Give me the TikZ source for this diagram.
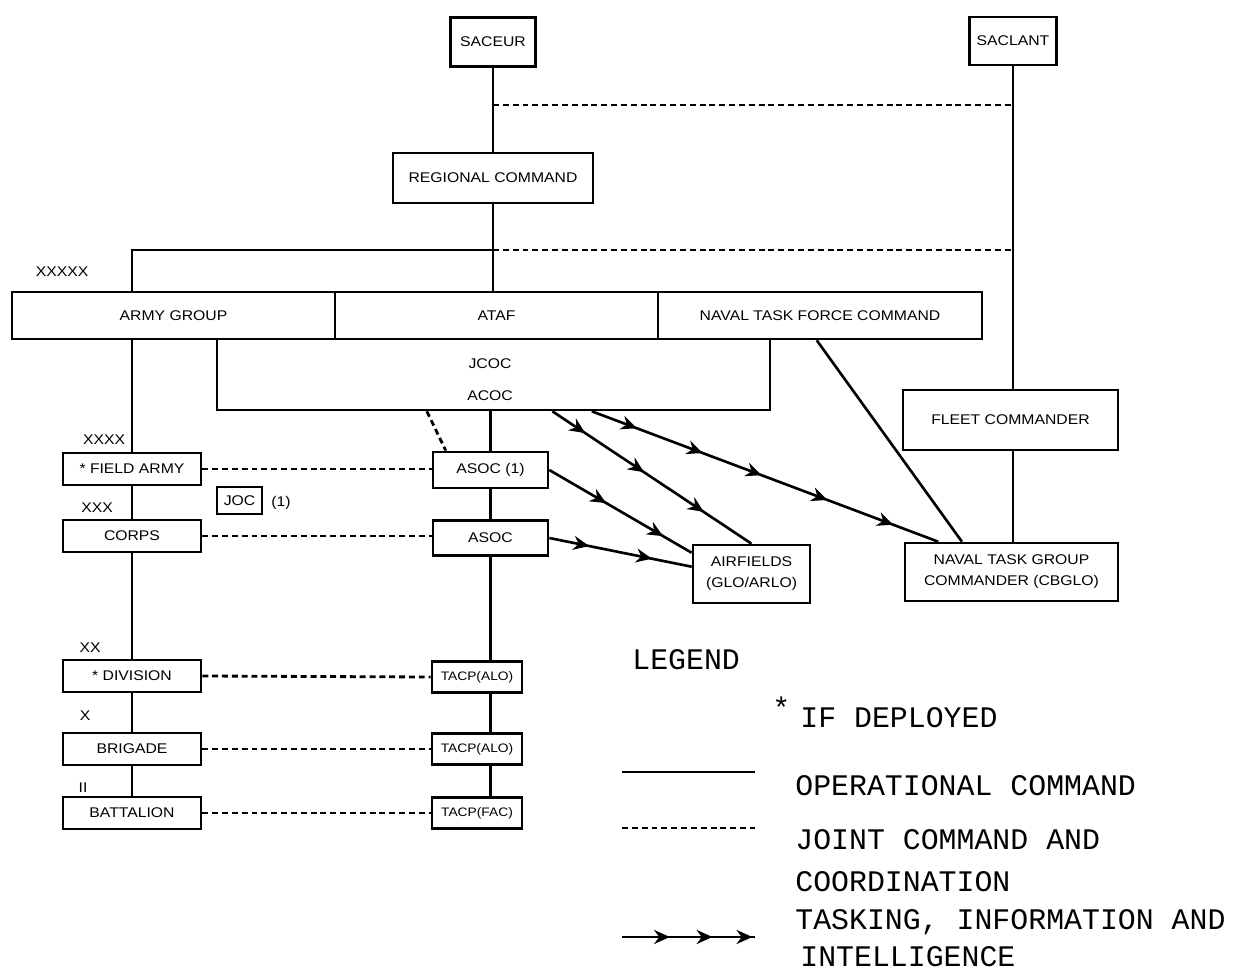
\documentclass[tikz,border=0pt]{standalone}
\usepackage{fontspec}
\setmainfont[FakeStretch=1.12]{Liberation Sans}
\newfontfamily\legendfont{Liberation Mono}
\usetikzlibrary{arrows.meta,decorations.markings,calc}

\tikzset{
  unit/.style={draw, line width=1.5pt, inner sep=0pt, font=\fontsize{8}{12}\selectfont},
  narrow/.style={font=\fontsize{7}{9}\selectfont},
  echelon/.style={font=\fontsize{8}{10}\selectfont},
  opcmd/.style={line width=1.5pt},
  joint/.style={line width=1.6pt, dash pattern=on 3.4pt off 2.2pt},
  arrowat/.style={decoration={markings, mark=at position #1 with {\arrow{Stealth[length=9pt,width=8pt]}}}},
  tasking/.style={line width=1.5pt, postaction=decorate},
  legendtext/.style={font=\legendfont\fontsize{17}{19}\selectfont, anchor=west, inner sep=0pt}
}

\begin{document}
\begin{tikzpicture}[x=0.02cm, y=-0.02cm]
\useasboundingbox (0,0) rectangle (1248,979);

% top commands
\node[unit, minimum width=1.7cm, minimum height=0.98cm] (saceur) at (493,42) {SACEUR};
\node[unit, minimum width=1.74cm, minimum height=0.96cm] (saclant) at (1013,41) {SACLANT};
\node[unit, minimum width=4cm, minimum height=1cm] (regcmd) at (493,178) {REGIONAL COMMAND};

% component row
\node[unit, minimum width=6.46cm, minimum height=0.94cm] (armygp) at (173.5,315.5) {ARMY GROUP};
\node[unit, minimum width=6.46cm, minimum height=0.94cm] (ataf) at (496.5,315.5) {ATAF};
\node[unit, minimum width=6.48cm, minimum height=0.94cm] (ntfc) at (820,315.5) {NAVAL TASK FORCE COMMAND};
\node[unit, minimum width=11.06cm, minimum height=1.42cm] (jcoc) at (493.5,374.5) {};
\node[echelon] (jcoctxt) at (490,364) {JCOC};
\node[echelon] (acoctxt) at (490,396) {ACOC};
\node[echelon] (lvl5) at (62,272) {XXXXX};

% naval side
\node[unit, minimum width=4.3cm, minimum height=1.2cm] (fleet) at (1010.5,420) {FLEET COMMANDER};
\node[unit, minimum width=4.26cm, minimum height=1.16cm, align=center] (ntgc) at (1011.5,572) {NAVAL TASK GROUP\\COMMANDER (CBGLO)};
\node[unit, minimum width=2.34cm, minimum height=1.16cm, align=center] (airfields) at (751.5,574) {AIRFIELDS\\(GLO/ARLO)};

% army column
\node[unit, minimum width=2.76cm, minimum height=0.64cm] (fieldarmy) at (132,469) {* FIELD ARMY};
\node[unit, minimum width=2.76cm, minimum height=0.64cm] (corps) at (132,536) {CORPS};
\node[unit, minimum width=2.76cm, minimum height=0.64cm] (division) at (132,676) {* DIVISION};
\node[unit, minimum width=2.76cm, minimum height=0.64cm] (brigade) at (132,749) {BRIGADE};
\node[unit, minimum width=2.76cm, minimum height=0.64cm] (battalion) at (132,813) {BATTALION};
\node[unit, minimum width=0.9cm, minimum height=0.54cm] (joc) at (239.5,500.5) {JOC};
\node[echelon] (jocnote) at (281,503) {(1)};
\node[echelon] (lvl4) at (104,440) {XXXX};
\node[echelon] (lvl3) at (97,508) {XXX};
\node[echelon] (lvl2) at (90,648) {XX};
\node[echelon] (lvl1) at (85,716) {X};
\node[echelon] (lvl0) at (83,788) {II};

% air column
\node[unit, minimum width=2.3cm, minimum height=0.72cm] (asocA) at (490.5,470) {ASOC (1)};
\node[unit, minimum width=2.3cm, minimum height=0.7cm] (asoc) at (490.5,538) {ASOC};
\node[unit, narrow, minimum width=1.8cm, minimum height=0.62cm] (tacpA) at (477,677) {TACP(ALO)};
\node[unit, narrow, minimum width=1.8cm, minimum height=0.62cm] (tacpB) at (477,749) {TACP(ALO)};
\node[unit, narrow, minimum width=1.8cm, minimum height=0.62cm] (tacpC) at (477,813) {TACP(FAC)};

% operational command
\coordinate (armytop) at (132,250);
\coordinate (jointtop) at (493,250);
\draw[opcmd] (saceur) -- (regcmd);
\draw[opcmd] (regcmd.south) -- (regcmd.south |- ataf.north);
\draw[opcmd] (armygp.north -| armytop) -- (armytop) -- (jointtop);
\draw[opcmd] (saclant) -- (saclant |- fleet.north);
\draw[opcmd] (fleet.south -| saclant) -- (ntgc.north -| saclant);
\draw[opcmd] ($(ntfc.south west)!0.49!(ntfc.south east)$) -- ($(ntgc.north west)!0.27!(ntgc.north east)$);
\draw[opcmd] (armygp.south -| fieldarmy) -- (fieldarmy);
\draw[opcmd] (fieldarmy) -- (corps);
\draw[opcmd] (corps) -- (division);
\draw[opcmd] (division) -- (brigade);
\draw[opcmd] (brigade) -- (battalion);
\draw[opcmd] (jcoc.south -| asocA) -- (asocA);
\draw[opcmd] (asocA) -- (asoc);
\draw[opcmd] (asoc.south) -- (asoc.south |- tacpA.north);
\draw[opcmd] (tacpA.south -| asoc.south) -- (tacpB.north -| asoc.south);
\draw[opcmd] (tacpB.south -| asoc.south) -- (tacpC.north -| asoc.south);

% joint command and coordination
\coordinate (jointhigh) at (493,105);
\draw[joint] (jointhigh) -- (jointhigh -| saclant);
\draw[joint] (jointtop) -- (jointtop -| saclant);
\draw[joint] ($(jcoc.south west)!0.38!(jcoc.south east)$) -- ($(asocA.north west)!0.12!(asocA.north east)$);
\draw[joint] (fieldarmy.east) -- (fieldarmy.east -| asocA.west);
\draw[joint] (corps.east) -- (corps.east -| asoc.west);
\draw[joint] (division.east) -- (tacpA.west);
\draw[joint] (brigade.east) -- (tacpB.west);
\draw[joint] (battalion.east) -- (tacpC.west);

% tasking, information and intelligence
\draw[tasking, arrowat/.list={0.165,0.46,0.76}]
  ($(jcoc.south west)!0.606!(jcoc.south east)$) -- (airfields.north);
\draw[tasking, arrowat/.list={0.13,0.32,0.49,0.68,0.87}]
  ($(jcoc.south west)!0.677!(jcoc.south east)$) -- ($(ntgc.north west)!0.16!(ntgc.north east)$);
\draw[tasking, arrowat/.list={0.4,0.8}]
  (asocA.east) -- ($(airfields.north west)!0.15!(airfields.south west)$);
\draw[tasking, arrowat/.list={0.28,0.72}]
  (asoc.east) -- ($(airfields.north west)!0.38!(airfields.south west)$);

% legend
\node[legendtext] (legend) at (632,660) {LEGEND};
\node[legendtext] (deployedstar) at (772,708) {*};
\node[legendtext] (deployed) at (800,718) {IF DEPLOYED};
\coordinate (keyA1) at (622,772); \coordinate (keyA2) at (755,772);
\coordinate (keyB1) at (622,828); \coordinate (keyB2) at (755,828);
\coordinate (keyC1) at (622,937); \coordinate (keyC2) at (755,937);
\draw[opcmd] (keyA1) -- (keyA2);
\draw[joint] (keyB1) -- (keyB2);
\draw[tasking, arrowat/.list={0.36,0.68,0.98}] (keyC1) -- (keyC2);
\node[legendtext] (keyAtxt) at (795,786) {OPERATIONAL COMMAND};
\node[legendtext] (keyBtxt) at (795,840) {JOINT COMMAND AND};
\node[legendtext] (keyBtxt2) at (795,882) {COORDINATION};
\node[legendtext] (keyCtxt) at (795,922) {TASKING, INFORMATION AND};
\node[legendtext] (keyCtxt2) at (800,957) {INTELLIGENCE};
\end{tikzpicture}
\end{document}
